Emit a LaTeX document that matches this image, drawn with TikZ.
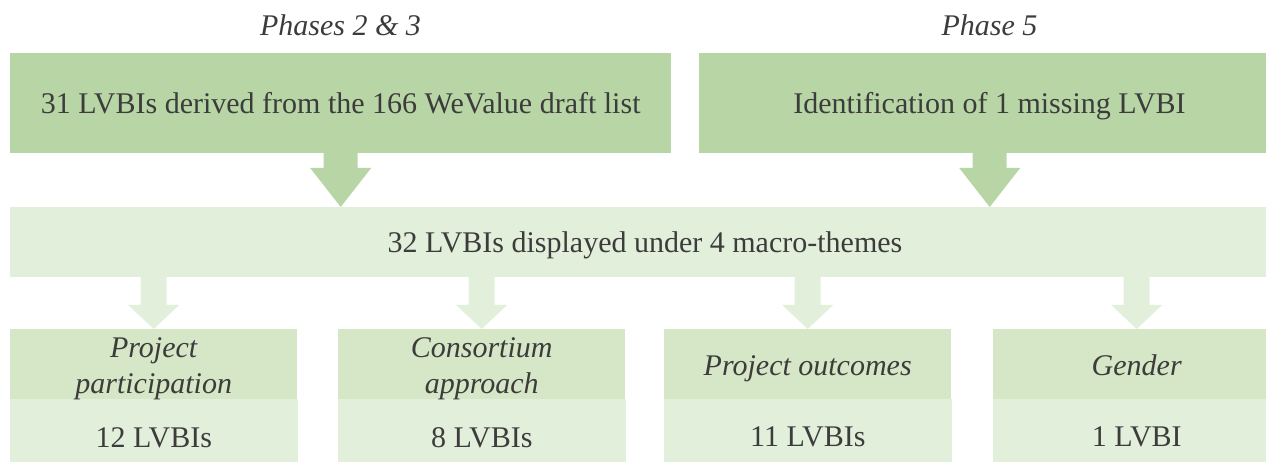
\documentclass[tikz,border=0pt]{standalone}
\usepackage{fontspec}
\setmainfont{Liberation Serif}
\usetikzlibrary{calc}
\definecolor{darkbox}{HTML}{B8D6A5}
\definecolor{midbox}{HTML}{D5E7C6}
\definecolor{lightbox}{HTML}{E2EFDA}
\definecolor{txt}{HTML}{3C3C3C}
\newcommand{\fatarrow}[6]{\fill[#6] ($(#1)+(-#3,-1)$) -- ($(#2)+(-#3,-#5)$) -- ($(#2)+(-#4,-#5)$) -- (#2) -- ($(#2)+(#4,-#5)$) -- ($(#2)+(#3,-#5)$) -- ($(#1)+(#3,-1)$) -- cycle;}
\begin{document}
\begin{tikzpicture}[x=1pt, y=-1pt, every node/.style={text=txt, font=\fontsize{30}{36}\selectfont, inner sep=0pt, align=center},
  box/.style={fill=#1, anchor=north west, minimum height=100pt},
  themebox/.style={fill=midbox, anchor=north west, minimum width=287pt, minimum height=70pt, text height=22pt, text depth=0pt, font=\fontsize{30}{36}\selectfont\itshape},
  twoline/.style={text height=58pt},
  countbox/.style={fill=lightbox, draw=lightbox, line width=0.6pt, anchor=north west, minimum width=287pt, minimum height=76pt}]
\useasboundingbox (0,0) rectangle (1266,462);

\node (ph1) at (340.5,25) {\itshape Phases 2 \& 3};
\node (ph2) at (989.5,25) {\itshape Phase 5};

\node[box=darkbox, minimum width=661pt] (top1) at (10,53) {31 LVBIs derived from the 166 WeValue draft list};
\node[box=darkbox, minimum width=581pt] (top2) at (699,53) {};
\node (top2txt) at (989.5,106) {Identification of 1 missing LVBI};
\node[box=lightbox, minimum width=1270pt, minimum height=70pt] (mid) at (10,207) {};
\node (midtxt) at (645,245) {32 LVBIs displayed under 4 macro-themes};

\node[countbox] (n1) at (10,399) {12 LVBIs};
\node[countbox] (n2) at (338,399) {8 LVBIs};
\node[countbox] (n3) at (664,399) {11 LVBIs};
\node[countbox] (n4) at (993,399) {1 LVBI};

\node[themebox, twoline] (th1) at (10,329) {Project\\participation};
\node[themebox, twoline] (th2) at (338,329) {Consortium\\approach};
\node[themebox] (th3) at (664,329) {Project outcomes};
\node[themebox] (th4) at (993,329) {Gender};

\coordinate (a1) at (top1.south |- mid.north);
\coordinate (a2) at (top2.south |- mid.north);
\fatarrow{top1.south}{a1}{17}{30.5}{39}{darkbox}
\fatarrow{top2.south}{a2}{17}{30.5}{39}{darkbox}

\foreach \i in {1,...,4}{
  \coordinate (b\i) at (th\i.north |- mid.south);
  \fatarrow{b\i}{th\i.north}{13}{25.5}{24}{lightbox}
}
\end{tikzpicture}
\end{document}
